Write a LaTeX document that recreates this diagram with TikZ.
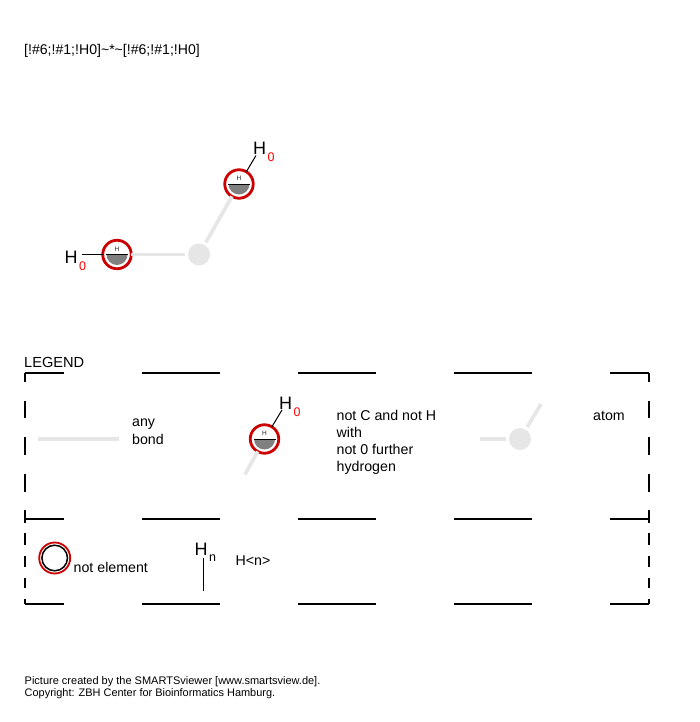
\documentclass[tikz,border=0pt]{standalone}
\usepackage{fontspec}
\setmainfont{Liberation Sans}
\usetikzlibrary{calc}
\definecolor{bondgray}{HTML}{E6E6E6}
\definecolor{ringred}{HTML}{CC0000}
\tikzset{
  x=1pt,y=-1pt,
  lbl/.style={anchor=base west,inner sep=0pt,font=\fontsize{14.2}{14.2}\selectfont,text=black},
  foot/.style={anchor=base west,inner sep=0pt,font=\fontsize{11}{11}\selectfont,text=black},
  hsym/.style={inner sep=0pt,font=\fontsize{18}{18}\selectfont,text=black},
  hcount/.style={inner sep=0pt,font=\fontsize{12.5}{12.5}\selectfont},
  zero/.style={hcount,text=red},
  tiny/.style={inner sep=0pt,font=\fontsize{6.5}{6.5}\selectfont,text=black!85},
  ringatom/.style={circle,draw=ringred,line width=2.8pt,fill=white,minimum size=28.5pt,inner sep=0pt,outer sep=0pt},
  grayatom/.style={circle,fill=bondgray,minimum size=22pt,inner sep=0pt,outer sep=3pt},
  bond/.style={draw=bondgray,line width=3.6pt},
  thin bond/.style={draw=black,line width=1pt},
  frame/.style={draw=black,line width=1.6pt},
}
\newcommand{\halfdisc}[1]{%
  \fill[black!50] ($(#1)+(-10.5,0)$) arc[start angle=180,end angle=0,radius=10.5] -- cycle;
  \draw[black,line width=1pt] ($(#1)+(-11,0)$) -- ($(#1)+(11,0)$);
}
\begin{document}
\begin{tikzpicture}
\useasboundingbox (0,0) rectangle (700,722);
% title
\node[lbl,font=\fontsize{14.1}{14.1}\selectfont] (title) at (24,55) {[!\#6;!\#1;!H0]\textasciitilde*\textasciitilde[!\#6;!\#1;!H0]};

% molecule
\node[grayatom] (c) at (199,254.5) {};
\node[ringatom] (a1) at (117,254.5) {};
\node[ringatom] (a2) at (239,184) {};
\draw[bond] (a1) -- (c);
\draw[bond] (a2) -- (c);
\halfdisc{a1}
\halfdisc{a2}
\node[tiny] (a1h) at (117,249) {H};
\node[tiny] (a2h) at (239,178.5) {H};
\node[hsym] (h1) at (71,257.5) {H};
\node[zero] (z1) at (82.5,266) {0};
\node[hsym] (h2) at (259.5,148.5) {H};
\node[zero] (z2) at (271,157) {0};
\draw[thin bond] (a1) -- (81.5,254.5);
\draw[thin bond] (a2) -- (256,155.5);

% legend
\node[lbl,font=\fontsize{14.6}{14.6}\selectfont] (legend) at (24,367) {LEGEND};
\foreach \y in {373,519,604}{
  \foreach \a/\b in {24.5/64,142/220,298/376,454/532,610/649}{
    \draw[frame] (\a,\y) -- (\b,\y);
  }
}
\foreach \x in {25,648.7}{
  \foreach \a/\b in {373/382,400.5/418,437/455,473.5/492,510/523,533/545,556/567,578/588,599/604}{
    \draw[frame] (\x,\a) -- (\x,\b);
  }
}
% any bond
\coordinate (b1) at (38,439);
\coordinate (b2) at (119,439);
\draw[bond] (b1) -- (b2);
\node[lbl] (any) at (132,426) {any};
\node[lbl] (bondt) at (132,444) {bond};

% not C and not H
\node[ringatom] (a3) at (264.5,439) {};
\coordinate (a3e) at (245,474.5);
\draw[bond] (a3) -- (a3e);
\halfdisc{a3}
\node[tiny] (a3h) at (264.5,433.5) {H};
\node[hsym] (h3) at (285.5,403.5) {H};
\node[zero] (z3) at (297,412) {0};
\draw[thin bond] (a3) -- (282,410);
\node[lbl] (t1) at (336.5,420) {not C and not H};
\node[lbl] (t2) at (336.5,437) {with};
\node[lbl] (t3) at (336.5,454) {not 0 further};
\node[lbl] (t4) at (336.5,471) {hydrogen};

% atom
\node[grayatom] (g) at (520,439) {};
\coordinate (g1) at (480,439);
\coordinate (g2) at (541,404);
\draw[bond] (g1) -- (g);
\draw[bond] (g2) -- (g);
\node[lbl] (atomt) at (593,420) {atom};

% not element
\node[circle,draw=ringred,line width=1.8pt,minimum size=31pt,inner sep=0pt,outer sep=0pt] (ne1) at (54.7,558) {};
\node[circle,draw=black,line width=1.5pt,minimum size=25.6pt,inner sep=0pt,outer sep=0pt] (ne2) at (54.7,558) {};
\node[lbl] (net) at (73.5,572) {not element};

% H<n>
\node[hsym] (h4) at (201,549.5) {H};
\node[hcount,text=black] (n4) at (212.5,558) {n};
\coordinate (h4e) at (203.5,591);
\draw[thin bond] (203.5,557.5) -- (h4e);
\node[lbl] (hnt) at (235.5,565) {H<n>};

% footer
\node[foot] (f1) at (24.5,684) {Picture created by the SMARTSviewer [www.smartsview.de].};
\node[foot,font=\fontsize{10.95}{10.95}\selectfont] (f2) at (24.5,696) {Copyright: ZBH Center for Bioinformatics Hamburg.};
\end{tikzpicture}
\end{document}
